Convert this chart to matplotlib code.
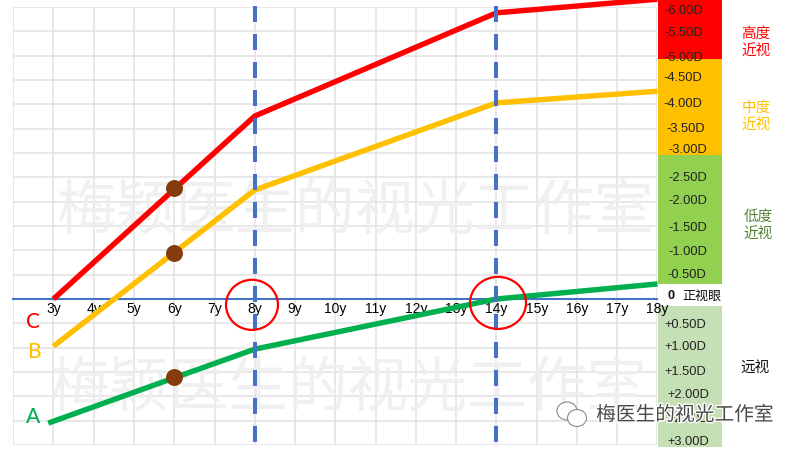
import matplotlib
matplotlib.use("Agg")
import matplotlib.pyplot as plt
import matplotlib.patheffects as pe
from matplotlib.patches import Ellipse, Rectangle

plt.rcParams['font.family'] = ['Liberation Sans', 'Noto Sans CJK SC', 'DejaVu Sans']

# ---- data ----
tick_ages = list(range(2, 19))
tick_labels = [''] + [f'{a}y' for a in range(3, 19)]

age_c = [3, 8, 14, 18]
val_c = [0.0, 3.76, 5.88, 6.16]
age_b = [3, 8, 14, 18]
val_b = [-0.97, 2.24, 4.03, 4.27]
age_a = [2.87, 6, 8, 14, 18]
val_a = [-2.55, -1.62, -1.03, 0.0, 0.31]

dot_ages = [6, 6, 6]
dot_vals = [2.28, 0.945, -1.61]

dashed_ages = [8, 14]

power_labels = ['-6.00D', '-5.50D', '-5.00D', '-4.50D', '-4.00D', '-3.50D', '-3.00D',
                '-2.50D', '-2.00D', '-1.50D', '-1.00D', '-0.50D',
                '+0.50D', '+1.00D', '+1.50D', '+2.00D', '+2.50D', '+3.00D']
power_px_y = [11, 33, 58, 78, 104, 129, 150, 178, 201, 228, 252, 275, 325, 347, 372, 395, 419, 442]
power_px_x = [684, 684, 684, 683, 683, 686, 688, 688, 688, 688, 688, 687, 685, 685, 685, 688, 688, 688]

bands = [(-2, 59, '#FF0000'), (59, 155, '#FFC000'), (155, 284, '#92D050'),
         (306, 447, '#C5E0B4')]

W, H = 800, 450
fig = plt.figure(figsize=(8, 4.5), dpi=100, facecolor='white')
L, R, T, B = 13.2, 657.5, 7.0, 445.0
ax = fig.add_axes([L / W, 1 - B / H, (R - L) / W, (B - T) / H])
ax.set_xlim(2, 18)
ax.set_ylim(-3, 6)
ax.set_facecolor('white')
ax.set_axisbelow(True)

ax.set_xticks(tick_ages)
ax.set_xticklabels(tick_labels, fontsize=7.6, color='#222222')
ax.set_yticks([i * 0.5 for i in range(-6, 13)])
ax.set_yticklabels([])
ax.tick_params(length=0, pad=2.5)
ax.grid(True, color='#e2e2e2', lw=1.1)
for s in ['top', 'right', 'left']:
    ax.spines[s].set_visible(False)
ax.spines['bottom'].set_position(('data', 0))
ax.spines['bottom'].set_color('#4472C4')
ax.spines['bottom'].set_linewidth(1.5)
ax.spines['bottom'].set_zorder(2.1)


def px(x, y):
    return x / W, 1 - y / H


# watermarks (above the grid, below the curves)
for xp, yp in [(355, 213), (348, 390)]:
    ax.text(*px(xp, yp), '梅颖医生的视光工作室', fontsize=43, color='#eeeeee',
            ha='center', va='center', family=['Noto Sans CJK SC'], zorder=0.7,
            transform=fig.transFigure, clip_on=False, alpha=0.85)

# colour bands (below the axis labels, so that 18y stays visible)
for top, bottom, col in bands:
    ax.add_patch(Rectangle((658 / W, 1 - bottom / H), 64 / W, (bottom - top) / H,
                           transform=fig.transFigure, color=col, lw=0, zorder=0.4, clip_on=False))

# curves
for xs, ys, col in [(age_c, val_c, '#FF0000'), (age_b, val_b, '#FFC000'), (age_a, val_a, '#00B050')]:
    ax.plot(xs, ys, color=col, lw=3.9, clip_on=False, zorder=3,
            solid_capstyle='butt', solid_joinstyle='miter')

for a in dashed_ages:
    ax.plot([a, a], [6.14, -3], color='#4472C4', lw=2.9, linestyle=(5.46, (3.97, 2.98)), clip_on=False,
            zorder=3.5, dash_capstyle='butt')

ax.plot(dot_ages, dot_vals, 'o', color='#843C0C', ms=12.2, mew=0, zorder=4)

ax.add_patch(Ellipse((7.93, -0.12), 1.29, 1.03, fill=False, ec='#FF0000', lw=1.6, zorder=5))
ax.add_patch(Ellipse((14.04, -0.08), 1.39, 1.07, fill=False, ec='#FF0000', lw=1.6, zorder=5))

# series letters
for s, c, xp, yp in [('C', '#FF0000', 33, 322), ('B', '#FFC000', 34, 352), ('A', '#00B050', 33, 417)]:
    fig.text(*px(xp, yp), s, color=c, fontsize=15, ha='center', va='center', family=['Lato'],
             weight='medium', zorder=6)

# power labels
for lab, xp, yp in zip(power_labels, power_px_x, power_px_y):
    fig.text(*px(xp, yp), lab, fontsize=9.3, color='#222222', ha='center', va='center', zorder=6)

fig.text(*px(671, 296), '0', fontsize=9.2, color='#111111', ha='center', va='center', weight='bold', zorder=6)
fig.text(*px(702, 296), '正视眼', fontsize=9.4, color='#111111', ha='center', va='center', zorder=6,
         family=['Noto Sans CJK SC'], weight='medium')

# category labels
for t, c, xp, yp in [('高度', '#FF0000', 756, 34), ('近视', '#FF0000', 756, 52),
                     ('中度', '#FFC000', 756, 108), ('近视', '#FFC000', 756, 126),
                     ('低度', '#548235', 758, 217), ('近视', '#548235', 758, 235),
                     ('远视', '#111111', 755, 368)]:
    fig.text(*px(xp, yp), t, color=c, fontsize=10.5, ha='center', va='center',
             family=['Noto Sans CJK SC'], zorder=6)

# account stamp
fig.text(*px(685, 415), '梅医生的视光工作室', fontsize=14.2, color='#4a4a4a', ha='center', va='center',
         family=['Noto Sans CJK SC'], zorder=7,
         path_effects=[pe.withStroke(linewidth=2.0, foreground='white')])
for cx, cy, rx, ry in [(567, 411, 10, 9), (577, 418, 9.5, 8.5)]:
    fig.add_artist(Ellipse(px(cx, cy), 2 * rx / W, 2 * ry / H, transform=fig.transFigure,
                           fc='white', ec='#8a8a8a', lw=0.8, zorder=7))

fig.savefig('out.png', dpi=100)
